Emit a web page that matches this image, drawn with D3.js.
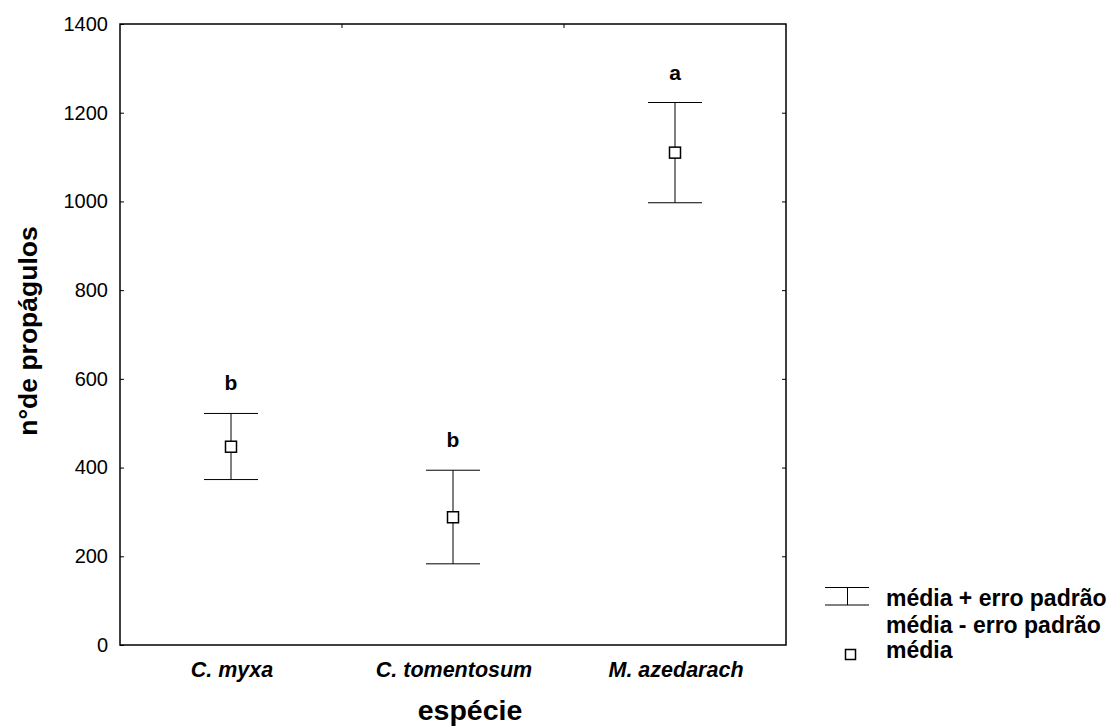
<!DOCTYPE html>
<html><head><meta charset="utf-8">
<script src="https://cdn.jsdelivr.net/npm/d3@7"></script>
<style>body{margin:0;background:#fff}svg{display:block;font-family:"Liberation Sans",Arial,sans-serif}</style>
</head><body><svg id="c" width="1111" height="726"></svg>
<script>
const categories = ["C. myxa", "C. tomentosum", "M. azedarach"];
const means = [447, 288, 1110];
const upper = [522, 394, 1223];
const lower = [373, 183, 997];
const letters = ["b", "b", "a"];
const yTicks = [0, 200, 400, 600, 800, 1000, 1200, 1400];

const svg = d3.select("#c");
const L = 120, R = 786, T = 24, B = 645;
const x = d3.scaleBand().domain(categories).range([L, R]);
const y = d3.scaleLinear().domain([0, 1400]).range([B, T]);
const data = categories.map((c, i) => ({c, m: means[i], u: upper[i], l: lower[i], t: letters[i]}));

// frame
svg.append("rect").attr("x", L).attr("y", T).attr("width", R - L).attr("height", B - T)
  .attr("fill", "none").attr("stroke", "#000").attr("stroke-width", 1.5);

// left axis
const ya = svg.append("g").attr("transform", `translate(${L},0)`)
  .call(d3.axisLeft(y).tickValues(yTicks).tickSize(-4).tickPadding(12).tickFormat(d3.format("d")));
ya.select(".domain").remove();
ya.selectAll("text").attr("font-size", 20).attr("fill", "#000").attr("font-family", "Liberation Sans, Arial, sans-serif");
// right ticks
const yr = svg.append("g").attr("transform", `translate(${R},0)`)
  .call(d3.axisRight(y).tickValues(yTicks.slice(1, -1)).tickSize(-4).tickFormat(""));
yr.select(".domain").remove();
// top ticks at band boundaries
svg.append("g").selectAll("line").data(categories.slice(1)).join("line")
  .attr("x1", d => x(d)).attr("x2", d => x(d)).attr("y1", T).attr("y2", T + 4)
  .attr("stroke", "#000");

// category labels
svg.append("g").selectAll("text").data(categories).join("text")
  .attr("x", d => x(d) + x.bandwidth() / 2 + 1).attr("y", 677)
  .attr("text-anchor", "middle").attr("font-size", 21.5).attr("font-weight", "bold").attr("font-style", "italic")
  .text(d => d);

// axis titles
svg.append("text").attr("x", 470).attr("y", 720).attr("text-anchor", "middle")
  .attr("font-size", 28.5).attr("font-weight", "bold").text("espécie");
svg.append("text").attr("transform", `translate(37,331) rotate(-90)`).attr("text-anchor", "middle")
  .attr("font-size", 26.5).attr("font-weight", "bold").text("n°de propágulos");

// error bars
const cx = d => x(d.c) + x.bandwidth() / 2;
const g = svg.append("g").attr("stroke", "#000").attr("stroke-width", 1);
const cap = 27;
g.selectAll(".v").data(data).join("line").attr("x1", cx).attr("x2", cx)
  .attr("y1", d => y(d.u)).attr("y2", d => y(d.l));
g.selectAll(".cu").data(data).join("line").attr("x1", d => cx(d) - cap).attr("x2", d => cx(d) + cap)
  .attr("y1", d => y(d.u)).attr("y2", d => y(d.u));
g.selectAll(".cl").data(data).join("line").attr("x1", d => cx(d) - cap).attr("x2", d => cx(d) + cap)
  .attr("y1", d => y(d.l)).attr("y2", d => y(d.l));
svg.append("g").selectAll("rect").data(data).join("rect")
  .attr("x", d => cx(d) - 5.5).attr("y", d => y(d.m) - 5.5).attr("width", 11).attr("height", 11)
  .attr("fill", "#fff").attr("stroke", "#000").attr("stroke-width", 1.5);
svg.append("g").selectAll("text").data(data).join("text")
  .attr("x", cx).attr("y", d => y(d.u) - 23).attr("text-anchor", "middle")
  .attr("font-size", 21).attr("font-weight", "bold").text(d => d.t);

// legend
const lg = svg.append("g");
lg.append("line").attr("x1", 825).attr("x2", 869).attr("y1", 587.5).attr("y2", 587.5).attr("stroke", "#000");
lg.append("line").attr("x1", 825).attr("x2", 869).attr("y1", 605).attr("y2", 605).attr("stroke", "#000");
lg.append("line").attr("x1", 847.5).attr("x2", 847.5).attr("y1", 587.5).attr("y2", 605).attr("stroke", "#000");
lg.append("rect").attr("x", 845.5).attr("y", 649.5).attr("width", 10).attr("height", 10)
  .attr("fill", "#fff").attr("stroke", "#000").attr("stroke-width", 1.5);
const lt = [["média + erro padrão", 606], ["média - erro padrão", 632.5], ["média", 658]];
lg.selectAll("text").data(lt).join("text").attr("x", 886).attr("y", d => d[1])
  .attr("font-size", 23).attr("font-weight", "bold").text(d => d[0]);
</script></body></html>
